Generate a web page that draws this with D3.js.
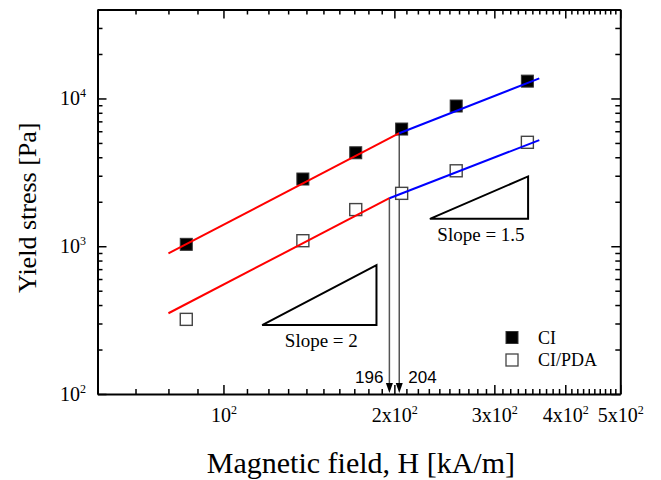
<!DOCTYPE html>
<html>
<head>
<meta charset="utf-8">
<script src="https://cdn.jsdelivr.net/npm/d3@7"></script>
<style>
    body { margin: 0; background: #fff; }
    svg { font-family: "Liberation Serif", "Times New Roman", serif; }
</style>
</head>
<body>
<svg id="chart" width="661" height="480"></svg>
<script>
// ------------------------------------------------------------
// Data
// ------------------------------------------------------------
const fieldH = [86, 138, 171, 206, 257, 343];
const stressCI = [1030, 2850, 4290, 6210, 8890, 13100];
const stressPDA = [320, 1090, 1770, 2280, 3240, 5050];

// fitted power-law pieces, [H, stress] end points
const fitCIlow = [[80, 895], [204, 5820]];
const fitCIhigh = [[204, 5820], [360, 13680]];
const fitPDAlow = [[80, 352], [196, 2113]];
const fitPDAhigh = [[196, 2113], [360, 5230]];

// crossover fields marked with arrows
const crossH = [196, 204];
const crossStress = [2113, 5820];
const crossLabels = ["196", "204"];

// slope guide triangles: [H0, H1], [stress0, stress1]
const triSlope2 = { h: [117, 186], s: [293, 745], label: "Slope = 2" };
const triSlope15 = { h: [231, 344], s: [1533, 2967], label: "Slope = 1.5" };

const xMajor = [100, 200, 300, 400, 500];
const xLabels = [["10", "2"], ["2x10", "2"], ["3x10", "2"], ["4x10", "2"], ["5x10", "2"]];
const yMajor = [100, 1000, 10000];
const yLabels = [["10", "2"], ["10", "3"], ["10", "4"]];

const seriesNames = ["CI", "CI/PDA"];

// ------------------------------------------------------------
// Scales
// ------------------------------------------------------------
const svg = d3.select("#chart");
const mLeft = 97.5, mRight = 620.3, mTop = 9.5, mBottom = 394;
const serif = "'Liberation Serif', 'Times New Roman', serif";

const x = d3.scaleLog().domain([60, 500]).range([mLeft, mRight]);
const y = d3.scaleLog().domain([100, 40000]).range([mBottom, mTop]);

// minor ticks: every 10 on x, 2..9 per decade on y
const xMinor = d3.range(60, 500, 10).filter(v => !xMajor.includes(v));
const yMinor = [];
[100, 1000, 10000].forEach(d => {
    d3.range(2, 10).forEach(m => { if (d * m <= 40000) yMinor.push(d * m); });
});

// ------------------------------------------------------------
// Axes
// ------------------------------------------------------------
function supLabels(sel, labels) {
    sel.selectAll(".tick text").each(function (d, i) {
        const t = d3.select(this).text("");
        t.append("tspan").text(labels[i][0]);
        t.append("tspan").attr("font-size", 12).attr("dy", -8).text(labels[i][1]);
    });
}

function styleAxis(g) {
    g.attr("font-family", serif);
    g.selectAll("path.domain").attr("stroke", "#000").attr("stroke-width", 2);
    g.selectAll(".tick line").attr("stroke", "#000").attr("stroke-width", 1.5);
    g.selectAll("text").attr("font-size", 20).attr("fill", "#000");
}

// bottom
const gx = svg.append("g").attr("transform", `translate(0,${mBottom})`)
    .call(d3.axisBottom(x).tickValues(xMajor).tickSizeInner(-9).tickSizeOuter(0).tickPadding(14).tickFormat(() => ""));
styleAxis(gx);
supLabels(gx, xLabels);
svg.append("g").attr("transform", `translate(0,${mBottom})`)
    .call(d3.axisBottom(x).tickValues(xMinor).tickSize(-5).tickFormat(""))
    .call(g => g.select(".domain").remove())
    .call(styleAxis);

// top
svg.append("g").attr("transform", `translate(0,${mTop})`)
    .call(d3.axisTop(x).tickValues(xMajor).tickSizeInner(-9).tickSizeOuter(0).tickFormat(""))
    .call(styleAxis);
svg.append("g").attr("transform", `translate(0,${mTop})`)
    .call(d3.axisTop(x).tickValues(xMinor).tickSize(-5).tickFormat(""))
    .call(g => g.select(".domain").remove())
    .call(styleAxis);

// left
const gy = svg.append("g").attr("transform", `translate(${mLeft},0)`)
    .call(d3.axisLeft(y).tickValues(yMajor).tickSizeInner(-9).tickSizeOuter(0).tickPadding(11.5).tickFormat(() => ""));
styleAxis(gy);
supLabels(gy, yLabels);
svg.append("g").attr("transform", `translate(${mLeft},0)`)
    .call(d3.axisLeft(y).tickValues(yMinor).tickSize(-5).tickFormat(""))
    .call(g => g.select(".domain").remove())
    .call(styleAxis);

// right
svg.append("g").attr("transform", `translate(${mRight},0)`)
    .call(d3.axisRight(y).tickValues(yMajor).tickSizeInner(-9).tickSizeOuter(0).tickFormat(""))
    .call(styleAxis);
svg.append("g").attr("transform", `translate(${mRight},0)`)
    .call(d3.axisRight(y).tickValues(yMinor).tickSize(-5).tickFormat(""))
    .call(g => g.select(".domain").remove())
    .call(styleAxis);

// axis titles
svg.append("text")
    .attr("x", (mLeft + mRight) / 2 + 2).attr("y", 473)
    .attr("text-anchor", "middle").attr("font-size", 30)
    .text("Magnetic field, H [kA/m]");

svg.append("text")
    .attr("transform", `translate(36,${(mTop + mBottom) / 2 + 6}) rotate(-90)`)
    .attr("text-anchor", "middle").attr("font-size", 26)
    .text("Yield stress [Pa]");

// ------------------------------------------------------------
// Crossover arrows
// ------------------------------------------------------------
crossH.forEach((h, i) => {
    svg.append("line")
        .attr("x1", x(h)).attr("x2", x(h))
        .attr("y1", y(crossStress[i])).attr("y2", mBottom - 8)
        .attr("stroke", "#555").attr("stroke-width", 1.5);
    svg.append("path")
        .attr("d", `M${x(h) - 3.5},${mBottom - 11}L${x(h) + 3.5},${mBottom - 11}L${x(h)},${mBottom - 1}Z`)
        .attr("fill", "#000");
    svg.append("text")
        .attr("x", i === 0 ? x(h) - 6 : x(h) + 9)
        .attr("y", mBottom - 11)
        .attr("text-anchor", i === 0 ? "end" : "start")
        .attr("font-family", "'Liberation Sans', Arial, sans-serif")
        .attr("font-size", 17)
        .text(crossLabels[i]);
});

// ------------------------------------------------------------
// Slope triangles
// ------------------------------------------------------------
[triSlope2, triSlope15].forEach(t => {
    const x0 = x(t.h[0]), x1 = x(t.h[1]), y0 = y(t.s[0]), y1 = y(t.s[1]);
    svg.append("path")
        .attr("d", `M${x0},${y0}L${x1},${y0}L${x1},${y1}Z`)
        .attr("fill", "none").attr("stroke", "#000").attr("stroke-width", 2)
        .attr("stroke-linejoin", "miter");
    svg.append("text")
        .attr("x", (x0 + x1) / 2 + 2).attr("y", y0 + 22)
        .attr("text-anchor", "middle").attr("font-size", 19)
        .text(t.label);
});

// ------------------------------------------------------------
// Markers
// ------------------------------------------------------------
const sz = 12;
svg.append("g").selectAll("rect")
    .data(fieldH.map((h, i) => [h, stressPDA[i]]))
    .enter().append("rect")
    .attr("x", d => x(d[0]) - sz / 2).attr("y", d => y(d[1]) - sz / 2)
    .attr("width", sz).attr("height", sz)
    .attr("fill", "#fff").attr("stroke", "#444").attr("stroke-width", 1.4);

svg.append("g").selectAll("rect")
    .data(fieldH.map((h, i) => [h, stressCI[i]]))
    .enter().append("rect")
    .attr("x", d => x(d[0]) - sz / 2).attr("y", d => y(d[1]) - sz / 2)
    .attr("width", sz).attr("height", sz)
    .attr("fill", "#000").attr("stroke", "#333").attr("stroke-width", 1);

// ------------------------------------------------------------
// Fit lines
// ------------------------------------------------------------
const line = d3.line().x(d => x(d[0])).y(d => y(d[1]));
[[fitCIlow, "#ff0000"], [fitPDAlow, "#ff0000"], [fitCIhigh, "#0000ff"], [fitPDAhigh, "#0000ff"]]
    .forEach(([pts, color]) => {
        svg.append("path").attr("d", line(pts))
            .attr("fill", "none").attr("stroke", color).attr("stroke-width", 2);
    });

// ------------------------------------------------------------
// Legend
// ------------------------------------------------------------
const legend = svg.append("g").attr("transform", "translate(512,337.5)");
seriesNames.forEach((name, i) => {
    legend.append("rect")
        .attr("x", -6).attr("y", i * 22.5 - 6).attr("width", 12).attr("height", 12)
        .attr("fill", i === 0 ? "#000" : "#fff")
        .attr("stroke", i === 0 ? "#333" : "#444").attr("stroke-width", i === 0 ? 1 : 1.3);
    legend.append("text")
        .attr("x", 26).attr("y", i * 22.5 + 6)
        .attr("font-size", 18)
        .text(name);
});
</script>
</body>
</html>
